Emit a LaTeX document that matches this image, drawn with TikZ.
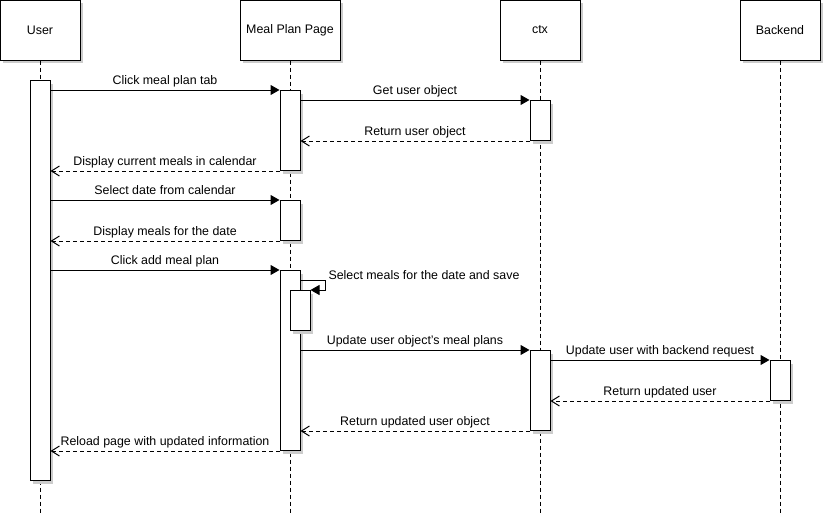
\documentclass[tikz,border=0pt]{standalone}
\usepackage{fontspec}
\setmainfont{Liberation Sans}
\usetikzlibrary{arrows.meta,shadows}

\begin{document}
\begin{tikzpicture}[x=1pt,y=-1pt,line width=1pt,font=\fontsize{12.4}{14}\selectfont,
    shade box/.style={draw,fill=white,inner sep=0pt,drop shadow={shadow xshift=3pt,shadow yshift=-3pt,fill=black!20,opacity=1}},
    head box/.style={shade box,minimum width=80pt,minimum height=60pt},
    act bar/.style={shade box,anchor=north,minimum width=20pt},
    life line/.style={dash pattern=on 4pt off 3pt},
    sync/.style={-{Triangle[length=9pt,width=10pt]}},
    ret/.style={dash pattern=on 4pt off 3pt,-{Straight Barb[length=8pt,width=10pt]}},
    msg/.style={above=2.5pt,inner sep=0pt,text depth=3pt}]
                        \useasboundingbox (0,0) rectangle (825,525);

                        % lifeline heads
                        \node[head box] (user) at (40,30) {User};
                        \node[head box,minimum width=100pt] (page) at (290,30) {Meal Plan Page};
                        \node[head box] (ctx) at (540,30) {ctx};
                        \node[head box] (backend) at (780,30) {Backend};
                        \coordinate (bottom) at (0,515);

                        \foreach \who in {user,page,ctx,backend}
                            \draw[life line] (\who.south) -- (\who.south |- bottom);

                        % activation bars
                        \node[act bar,minimum height=400pt] (ub) at (40,80) {};
                        \node[act bar,minimum height=80pt] (pb1) at (290,90) {};
                        \node[act bar,minimum height=40pt] (cb1) at (540,100) {};
                        \node[act bar,minimum height=40pt] (pb2) at (290,200) {};
                        \node[act bar,minimum height=180pt] (pb3) at (290,270) {};
                        \node[act bar,minimum height=40pt] (nb) at (300,290) {};
                        \node[act bar,minimum height=80pt] (cb2) at (540,350) {};
                        \node[act bar,minimum height=40pt] (bb) at (780,360) {};

                        \path[every node/.style={msg}]
                            (ub.east |- pb1.north) edge[sync] node {Click meal plan tab} (pb1.north west)
                            (pb1.east |- cb1.north) edge[sync] node {Get user object} (cb1.north west)
                            (ub.east |- pb2.north) edge[sync] node {Select date from calendar} (pb2.north west)
                            (ub.east |- pb3.north) edge[sync] node {Click add meal plan} (pb3.north west)
                            (pb3.east |- cb2.north) edge[sync] node {Update user object's meal plans} (cb2.north west)
                            (cb2.east |- bb.north) edge[sync] node {Update user with backend request} (bb.north west)
                        ;

                        \path[every node/.style={msg}]
                            (cb1.south west) edge[ret] node {Return user object} (pb1.east |- cb1.south)
                            (pb1.south west) edge[ret] node {Display current meals in calendar} (ub.east |- pb1.south)
                            (pb2.south west) edge[ret] node {Display meals for the date} (ub.east |- pb2.south)
                            (bb.south west) edge[ret] node {Return updated user} (cb2.east |- bb.south)
                            (cb2.south west) edge[ret] node {Return updated user object} (pb3.east |- cb2.south)
                            (pb3.south west) edge[ret] node {Reload page with updated information} (ub.east |- pb3.south)
                        ;

                        % self call
                        \coordinate (turn) at (325,280);
                        \draw[sync] (pb3.east |- turn) -- (turn)
                            node[anchor=base west,inner sep=0pt,xshift=3pt,yshift=1pt] {Select meals for the date and save}
                            -- (turn |- nb.north) -- (nb.north east);

                    \end{tikzpicture}
\end{document}
